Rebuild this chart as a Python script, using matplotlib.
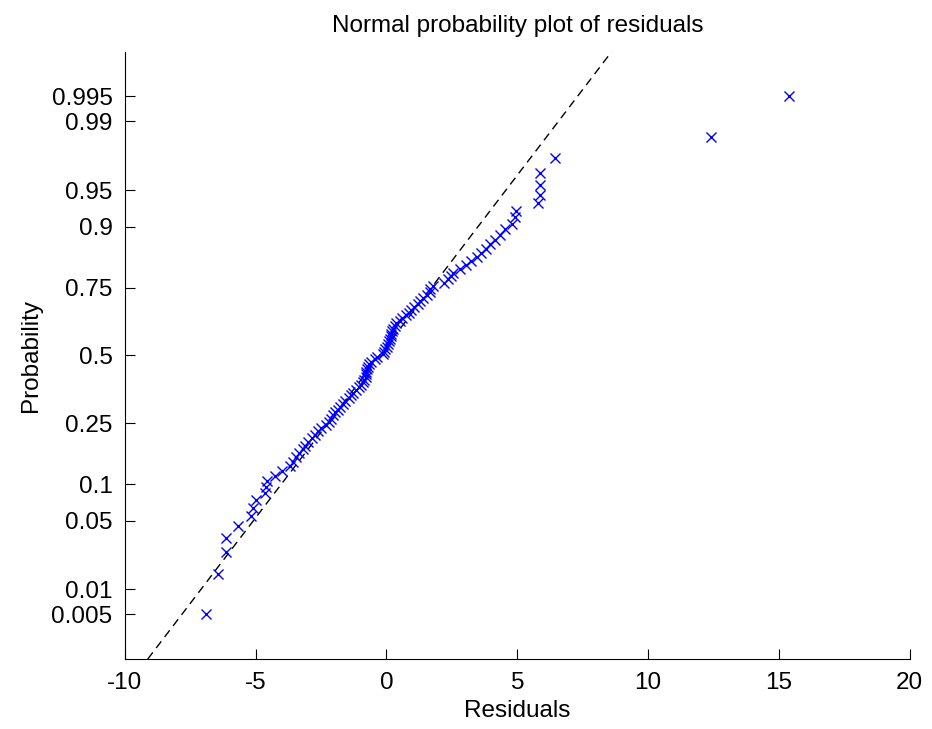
import numpy as np
import matplotlib
matplotlib.use('Agg')
import matplotlib.pyplot as plt
from statistics import NormalDist

# sorted residuals (100 points)
residuals = [
    -6.90, -6.44, -6.12, -6.12, -5.67, -5.16, -5.10, -4.97, -4.65, -4.60,
    -4.58, -4.25, -4.00, -3.70, -3.57, -3.45, -3.33, -3.20, -3.10, -3.00,
    -2.85, -2.75, -2.62, -2.52, -2.30, -2.18, -2.12, -2.05, -1.98, -1.86,
    -1.78, -1.66, -1.58, -1.45, -1.35, -1.28, -1.15, -1.05, -0.96, -0.90,
    -0.84, -0.80, -0.78, -0.77, -0.75, -0.72, -0.65, -0.58, -0.45, -0.35,
    -0.15, -0.10, -0.04, 0.02, 0.06, 0.10, 0.13, 0.16, 0.19, 0.22,
    0.25, 0.32, 0.38, 0.50, 0.60, 0.76, 0.85, 0.95, 1.05, 1.21,
    1.30, 1.40, 1.55, 1.65, 1.68, 1.76, 2.20, 2.36, 2.45, 2.55,
    2.80, 3.05, 3.24, 3.45, 3.63, 3.80, 3.95, 4.14, 4.33, 4.52,
    4.78, 4.90, 4.97, 5.79, 5.86, 5.86, 5.86, 6.43, 12.4, 15.4,
]

prob_ticks = [0.005, 0.01, 0.05, 0.1, 0.25, 0.5, 0.75, 0.9, 0.95, 0.99, 0.995]
prob_labels = ['0.005', '0.01', '0.05', '0.1', '0.25', '0.5', '0.75', '0.9', '0.95', '0.99', '0.995']
x_ticks = [-10, -5, 0, 5, 10, 15, 20]

nd = NormalDist()
x = np.sort(np.array(residuals))
n = len(x)
p = (np.arange(1, n + 1) - 0.5) / n
z = np.array([nd.inv_cdf(v) for v in p])

# reference line through 1st and 3rd quartiles
q1, q3 = np.percentile(x, [25, 75], method='hazen')
z1, z3 = nd.inv_cdf(0.25), nd.inv_cdf(0.75)
slope = (q3 - q1) / (z3 - z1)
icpt = q1 - slope * z1

plt.rcParams['font.family'] = ['Liberation Sans', 'DejaVu Sans']

fig = plt.figure(figsize=(9.32, 7.29), dpi=100)
ax = fig.add_axes([0.134, 0.096, 0.842, 0.833])

ylim = (-3.02, 3.02)
zz = np.array(ylim)
ax.plot(icpt + slope * zz, zz, color='black', linestyle=(0, (6, 4)), linewidth=1)
ax.plot(x, z, 'x', color='blue', markersize=7, markeredgewidth=1)

ax.set_xlim(-10, 20)
ax.set_ylim(*ylim)
ax.set_xticks(x_ticks)
ax.set_xticklabels([str(t) for t in x_ticks])
ax.set_yticks([nd.inv_cdf(v) for v in prob_ticks])
ax.set_yticklabels(prob_labels)

ax.spines['top'].set_visible(False)
ax.spines['right'].set_visible(False)
ax.tick_params(direction='in', length=7, labelsize=17.5)
ax.tick_params(axis='x', pad=9)
ax.tick_params(axis='y', pad=9)

ax.set_title('Normal probability plot of residuals', fontsize=17.5, pad=14)
ax.set_xlabel('Residuals', fontsize=17.5, labelpad=5)
ax.set_ylabel('Probability', fontsize=17.5, labelpad=7)

fig.savefig('out.png', dpi=100)
